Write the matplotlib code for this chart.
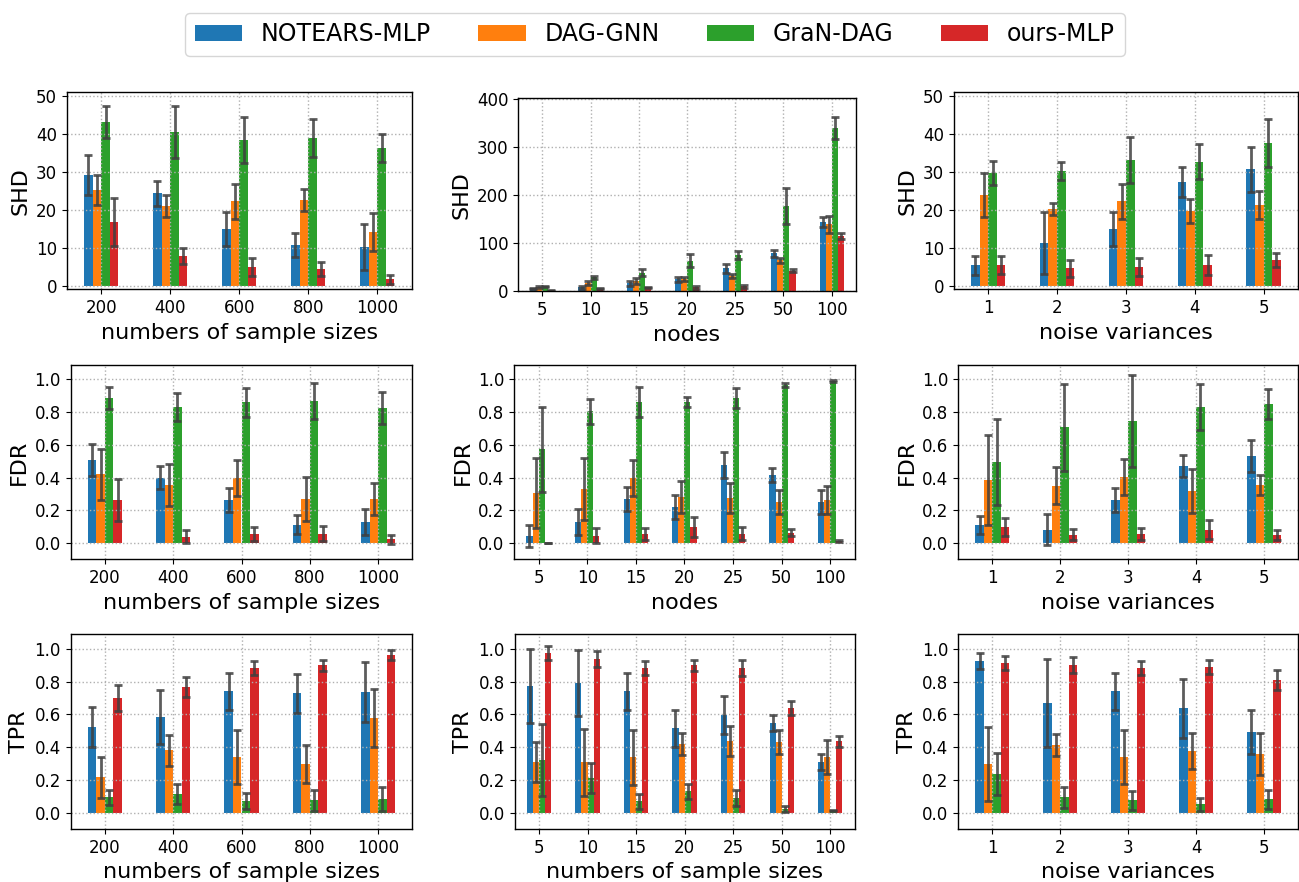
import numpy as np
import matplotlib
matplotlib.use('Agg')
import matplotlib.pyplot as plt

methods = ['NOTEARS-MLP', 'DAG-GNN', 'GraN-DAG', 'ours-MLP']
colors = ['#1f77b4', '#ff7f0e', '#2ca02c', '#d62728']

sample_sizes = ['200', '400', '600', '800', '1000']
nodes = ['5', '10', '15', '20', '25', '50', '100']
noise_vars = ['1', '2', '3', '4', '5']

# rows: NOTEARS-MLP, DAG-GNN, GraN-DAG, ours-MLP
shd_samp_mean = [[29.2, 24.4, 15.0, 10.8, 10.2],
                 [25.2, 21.0, 22.3, 22.6, 14.2],
                 [43.1, 40.5, 38.4, 38.9, 36.3],
                 [16.8, 7.9, 5.0, 4.5, 1.8]]
shd_samp_std = [[5.2, 3.3, 4.5, 3.2, 6.1],
                [4.0, 2.9, 4.6, 3.0, 5.0],
                [4.2, 6.8, 6.0, 4.9, 3.6],
                [6.2, 2.0, 2.3, 1.75, 1.2]]

shd_node_mean = [[4.9, 7, 15.3, 23.7, 47, 78.6, 143.3],
                 [8.3, 16, 21, 24, 30.6, 63.3, 138.4],
                 [9, 28, 38, 63, 74.4, 176.7, 339.5],
                 [1, 4, 7, 7.6, 9.7, 41.7, 114]]
shd_node_std = [[1.5, 3, 5, 5, 9, 7.3, 11],
                [1.5, 4.5, 6, 4.5, 4, 5, 17.4],
                [2, 3, 6.6, 14, 8.3, 36.5, 23.3],
                [0.5, 1, 1.5, 3, 3, 3.5, 7]]

shd_noise_mean = [[5.5, 11.3, 15.0, 27.3, 30.7],
                  [23.9, 20.2, 22.3, 19.7, 21.3],
                  [29.7, 30.2, 33.1, 32.6, 37.6],
                  [5.5, 4.6, 5.0, 5.5, 6.8]]
shd_noise_std = [[2.5, 8.2, 4.5, 4.0, 5.9],
                 [5.8, 1.6, 4.6, 3.1, 3.7],
                 [3.1, 2.4, 6.0, 4.6, 6.3],
                 [2.4, 2.2, 2.3, 2.6, 1.8]]

fdr_samp_mean = [[0.507, 0.40, 0.263, 0.11, 0.128],
                 [0.42, 0.354, 0.40, 0.269, 0.269],
                 [0.886, 0.83, 0.86, 0.868, 0.825],
                 [0.263, 0.037, 0.055, 0.055, 0.022]]
fdr_samp_std = [[0.10, 0.07, 0.076, 0.058, 0.077],
                [0.155, 0.128, 0.11, 0.137, 0.098],
                [0.067, 0.087, 0.09, 0.113, 0.099],
                [0.13, 0.04, 0.044, 0.046, 0.026]]

fdr_node_mean = [[0.043, 0.128, 0.267, 0.22, 0.477, 0.415, 0.25],
                 [0.305, 0.33, 0.40, 0.281, 0.275, 0.25, 0.263],
                 [0.574, 0.805, 0.862, 0.862, 0.886, 0.965, 0.99],
                 [0.002, 0.045, 0.057, 0.098, 0.057, 0.063, 0.012]]
fdr_node_std = [[0.066, 0.08, 0.074, 0.071, 0.081, 0.042, 0.073],
                [0.216, 0.19, 0.11, 0.10, 0.094, 0.071, 0.088],
                [0.26, 0.077, 0.09, 0.032, 0.062, 0.014, 0.006],
                [0.0, 0.048, 0.037, 0.059, 0.039, 0.02, 0.005]]

fdr_noise_mean = [[0.11, 0.08, 0.263, 0.47, 0.532],
                  [0.385, 0.35, 0.403, 0.318, 0.354],
                  [0.495, 0.709, 0.745, 0.83, 0.851],
                  [0.098, 0.049, 0.055, 0.08, 0.049]]
fdr_noise_std = [[0.055, 0.094, 0.074, 0.067, 0.1],
                 [0.275, 0.113, 0.11, 0.132, 0.06],
                 [0.26, 0.266, 0.279, 0.14, 0.09],
                 [0.056, 0.034, 0.037, 0.058, 0.031]]

tpr_samp_mean = [[0.521, 0.582, 0.741, 0.729, 0.735],
                 [0.216, 0.381, 0.338, 0.295, 0.576],
                 [0.094, 0.112, 0.069, 0.075, 0.081],
                 [0.699, 0.766, 0.882, 0.9, 0.961]]
tpr_samp_std = [[0.122, 0.164, 0.113, 0.119, 0.183],
                [0.126, 0.094, 0.166, 0.115, 0.178],
                [0.045, 0.06, 0.048, 0.064, 0.074],
                [0.081, 0.063, 0.045, 0.033, 0.03]]

tpr_node_mean = [[0.772, 0.79, 0.741, 0.515, 0.595, 0.546, 0.308],
                 [0.308, 0.308, 0.338, 0.418, 0.436, 0.43, 0.338],
                 [0.32, 0.21, 0.069, 0.13, 0.088, 0.02, 0.014],
                 [0.974, 0.937, 0.882, 0.9, 0.882, 0.637, 0.436]]
tpr_node_std = [[0.225, 0.2, 0.114, 0.114, 0.114, 0.047, 0.049],
                [0.123, 0.204, 0.167, 0.065, 0.09, 0.074, 0.103],
                [0.22, 0.09, 0.047, 0.046, 0.049, 0.018, 0.005],
                [0.045, 0.05, 0.044, 0.033, 0.051, 0.043, 0.034]]

tpr_noise_mean = [[0.925, 0.668, 0.741, 0.637, 0.491],
                  [0.295, 0.411, 0.338, 0.375, 0.356],
                  [0.234, 0.094, 0.075, 0.051, 0.081],
                  [0.912, 0.9, 0.882, 0.888, 0.808]]
tpr_noise_std = [[0.047, 0.27, 0.114, 0.179, 0.134],
                 [0.225, 0.068, 0.166, 0.108, 0.128],
                 [0.127, 0.063, 0.059, 0.04, 0.059],
                 [0.044, 0.049, 0.044, 0.042, 0.061]]

W, H = 1299, 882
fig = plt.figure(figsize=(W / 100, H / 100), dpi=100)

# axes boxes in pixels: left, top, right, bottom
boxes = [
    [(66.7, 92.3, 411.7, 289.3), (518.2, 98.3, 855.8, 291.3), (953.8, 92.3, 1298.0, 289.3)],
    [(70.7, 364.7, 412.3, 559.3), (514.3, 364.7, 854.5, 559.3), (958.3, 364.7, 1298.0, 559.3)],
    [(70.7, 634.0, 412.3, 829.0), (514.7, 634.0, 854.5, 829.0), (958.3, 634.0, 1298.0, 829.0)],
]

panels = [
    [(shd_samp_mean, shd_samp_std, sample_sizes, 'numbers of sample sizes', 'SHD'),
     (shd_node_mean, shd_node_std, nodes, 'nodes', 'SHD'),
     (shd_noise_mean, shd_noise_std, noise_vars, 'noise variances', 'SHD')],
    [(fdr_samp_mean, fdr_samp_std, sample_sizes, 'numbers of sample sizes', 'FDR'),
     (fdr_node_mean, fdr_node_std, nodes, 'nodes', 'FDR'),
     (fdr_noise_mean, fdr_noise_std, noise_vars, 'noise variances', 'FDR')],
    [(tpr_samp_mean, tpr_samp_std, sample_sizes, 'numbers of sample sizes', 'TPR'),
     (tpr_node_mean, tpr_node_std, nodes, 'numbers of sample sizes', 'TPR'),
     (tpr_noise_mean, tpr_noise_std, noise_vars, 'noise variances', 'TPR')],
]

ylims = [[(-0.87, 50.9), (-1, 401), (-0.87, 50.9)],
         [(-0.1, 1.09)] * 3,
         [(-0.1, 1.09)] * 3]

bw = 0.125
err_kw = dict(ecolor='#404040', elinewidth=2, capsize=3, capthick=2, alpha=0.85)

for r in range(3):
    for c in range(3):
        l, t, rr, b = boxes[r][c]
        ax = fig.add_axes([l / W, 1 - b / H, (rr - l) / W, (b - t) / H])
        mean, std, labels, xlab, ylab = panels[r][c]
        x = np.arange(len(labels))
        for k in range(4):
            ax.bar(x + (k - 1.5) * bw, mean[k], bw, yerr=std[k], color=colors[k],
                   error_kw=err_kw, label=methods[k])
        ax.set_xticks(x)
        ax.set_xticklabels(labels)
        ax.set_xlim(-0.5, len(labels) - 0.5)
        ax.set_ylim(*ylims[r][c])
        if r == 0 and c != 1:
            ax.set_yticks([0, 10, 20, 30, 40, 50])
        elif r == 0:
            ax.set_yticks([0, 100, 200, 300, 400])
        else:
            ax.set_yticks([0.0, 0.2, 0.4, 0.6, 0.8, 1.0])
        ax.grid(True, linestyle=':', color='#b0b0b0', linewidth=1)
        ax.tick_params(labelsize=12)
        ax.set_xlabel(xlab, fontsize=16)
        ax.set_ylabel(ylab, fontsize=16)
        for s in ax.spines.values():
            s.set_linewidth(1.0)
        if r == 0 and c == 0:
            handles, hl = ax.get_legend_handles_labels()

fig.legend(handles, hl, loc='upper center', bbox_to_anchor=(655 / W, 1 - 1 / H),
           ncol=4, fontsize=17, handlelength=2.0, columnspacing=2.0)

fig.savefig('out.png', dpi=100)
